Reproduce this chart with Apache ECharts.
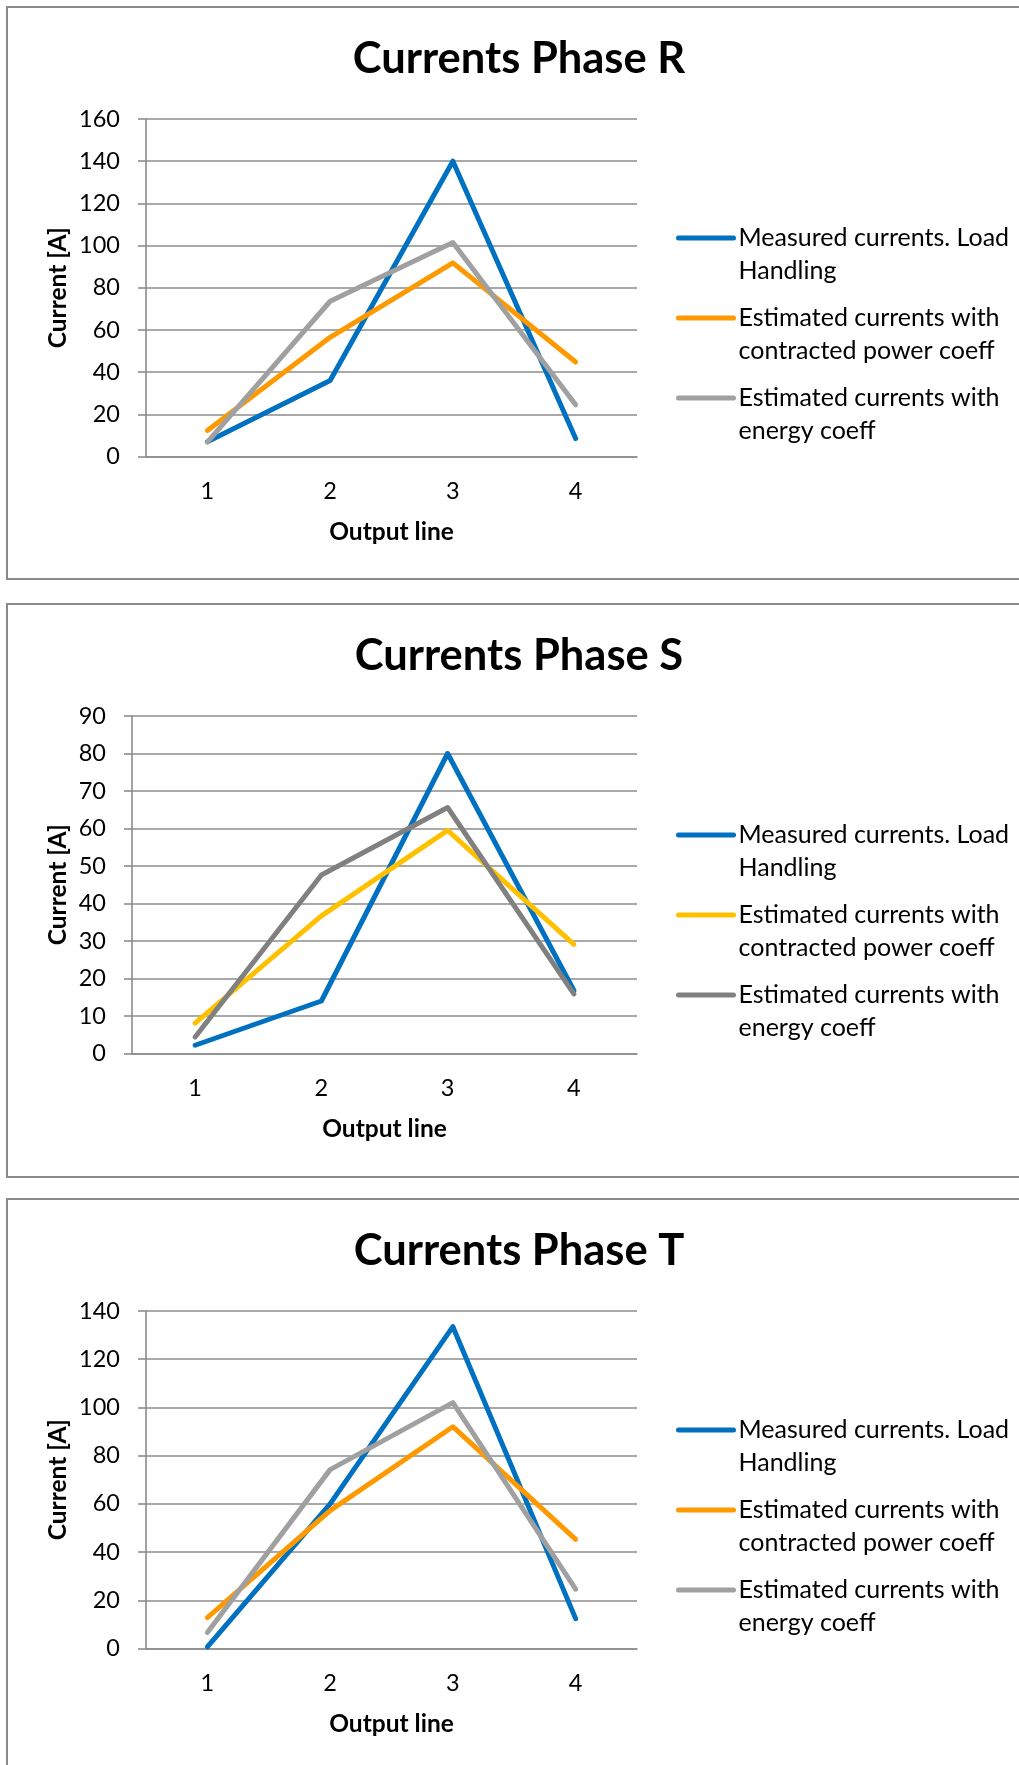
<!DOCTYPE html>
<html>
<head>
<meta charset="utf-8">
<script src="https://cdn.jsdelivr.net/npm/echarts@6/dist/echarts.min.js"></script>
<style>
  html, body { margin: 0; padding: 0; background: #fff; overflow: hidden; width: 1019px; height: 1765px; }
  .chart { position: absolute; left: 0; width: 1038px; }
</style>
</head>
<body>
<div id="phaseR" class="chart" style="top:0;height:590px"></div>
<div id="phaseS" class="chart" style="top:597px;height:590px"></div>
<div id="phaseT" class="chart" style="top:1192px;height:573px"></div>
<script>
// Output lines (x categories)
const outputLines = ['1', '2', '3', '4'];

// Series names shown in the legends
const seriesNames = [
  'Measured currents. Load\nHandling',
  'Estimated currents with\ncontracted power coeff',
  'Estimated currents with\nenergy coeff'
];

// Phase R currents [A]
const rMeasured   = [7, 36, 140, 8.5];
const rContracted = [12.3, 56.5, 91.8, 44.8];
const rEnergy     = [6.8, 73.6, 101.4, 24.5];

// Phase S currents [A]
const sMeasured   = [2.2, 14, 80, 16.8];
const sContracted = [8.1, 36.7, 59.5, 29.1];
const sEnergy     = [4.4, 47.6, 65.6, 15.9];

// Phase T currents [A]
const tMeasured   = [0.7, 60, 133.5, 12.4];
const tContracted = [12.8, 57.2, 92, 45.3];
const tEnergy     = [6.6, 74.2, 102, 24.6];

// Value axis ranges: [max, interval]
const rAxis = [160, 20];
const sAxis = [90, 10];
const tAxis = [140, 20];

const FONT = 'Lato';
const GRID_GRAY = '#8c8c8c';
const LEGEND_LINE = 33;

function buildOption(title, values, colors, axis, yAxisLeft, boxHeight) {
  return {
    animation: false,
    backgroundColor: '#fff',
    graphic: [{
      type: 'rect',
      shape: { x: 7, y: 7, width: 1100, height: boxHeight },
      style: { fill: 'none', stroke: '#8a8a8a', lineWidth: 2 },
      silent: true
    }],
    title: {
      text: title,
      left: 'center',
      top: 37,
      padding: 0,
      textStyle: { fontFamily: FONT, fontWeight: 'bold', fontSize: 43.5, color: '#000' }
    },
    legend: {
      orient: 'vertical',
      left: 676,
      top: 238 - LEGEND_LINE * 1.5,
      padding: 0,
      itemGap: 80 - LEGEND_LINE * 3,
      itemWidth: 55,
      itemHeight: 14,
      data: seriesNames,
      // leading blank line keeps the key line level with the first text line
      formatter: name => '\n' + name,
      itemStyle: { opacity: 0 },
      lineStyle: { width: 5, cap: 'round' },
      textStyle: { fontFamily: FONT, fontSize: 25, color: '#000', lineHeight: LEGEND_LINE }
    },
    grid: { left: yAxisLeft, width: 637 - yAxisLeft, top: 119, height: 337.5 },
    xAxis: {
      type: 'category',
      data: outputLines,
      boundaryGap: true,
      name: 'Output line',
      nameLocation: 'middle',
      nameGap: 63,
      nameTextStyle: { fontFamily: FONT, fontWeight: 'bold', fontSize: 24.5, color: '#000' },
      axisLine: { lineStyle: { color: GRID_GRAY, width: 1.6 } },
      axisTick: { show: false },
      axisLabel: { margin: 23, fontFamily: FONT, fontSize: 23.5, color: '#000' }
    },
    yAxis: {
      type: 'value',
      min: 0,
      max: axis[0],
      interval: axis[1],
      name: 'Current [A]',
      nameLocation: 'middle',
      nameGap: yAxisLeft - 71,
      nameTextStyle: { fontFamily: FONT, fontWeight: 'bold', fontSize: 24.5, color: '#000' },
      axisLine: { show: true, lineStyle: { color: GRID_GRAY, width: 1.6 } },
      axisTick: { show: true, length: 8, lineStyle: { color: GRID_GRAY, width: 1.6 } },
      axisLabel: { margin: 26, fontFamily: FONT, fontSize: 23.5, color: '#000' },
      splitLine: { lineStyle: { color: GRID_GRAY, width: 1.6 } }
    },
    series: values.map((v, i) => ({
      type: 'line',
      name: seriesNames[i],
      data: v,
      symbol: 'none',
      color: colors[i],
      lineStyle: { color: colors[i], width: 5, cap: 'round', join: 'round' }
    }))
  };
}

const charts = [
  ['phaseR', 'Currents Phase R', [rMeasured, rContracted, rEnergy], ['#0070c0', '#ff9900', '#a0a0a0'], rAxis, 146, 572],
  ['phaseS', 'Currents Phase S', [sMeasured, sContracted, sEnergy], ['#0070c0', '#ffc000', '#808080'], sAxis, 132, 573],
  ['phaseT', 'Currents Phase T', [tMeasured, tContracted, tEnergy], ['#0070c0', '#ff9900', '#a0a0a0'], tAxis, 146, 700]
];

charts.forEach(([id, title, values, colors, axis, left, boxH]) => {
  const chart = echarts.init(document.getElementById(id), null, { renderer: 'canvas' });
  chart.setOption(buildOption(title, values, colors, axis, left, boxH));
});
</script>
</body>
</html>
